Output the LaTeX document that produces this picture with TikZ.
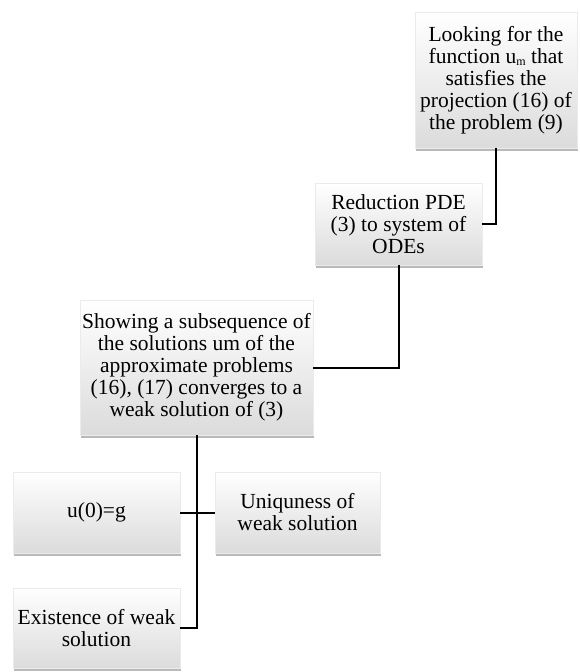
\documentclass[tikz,border=0pt]{standalone}
\usepackage{fontspec}
\setmainfont{Liberation Serif}
\usetikzlibrary{shadows}

\newcommand{\lowsub}[1]{\raisebox{-2.5pt}{\fontsize{12}{12}\selectfont #1}}

\begin{document}
\begin{tikzpicture}[x=1pt,y=-1pt]
      \tikzset{box/.style={rectangle,top color=white,bottom color=black!14,
        draw=black!8,align=center,inner sep=0pt,font=\fontsize{21.5}{22}\selectfont,
        drop shadow={shadow xshift=1pt,shadow yshift=-3pt,opacity=.55}}}
      \tikzset{link/.style={line width=2pt}}
      \useasboundingbox (0,0) rectangle (579,672);
      \node[box,minimum width=162pt,minimum height=136pt] (looking) at (496,80)
        {Looking for the\\function u\lowsub{m} that\\satisfies the\\projection (16) of\\the problem (9)};
      \node[box,minimum width=167pt,minimum height=82pt] (reduction) at (398.5,224)
        {Reduction PDE\\(3) to system of\\ODEs};
      \node[box,minimum width=233pt,minimum height=135pt] (showing) at (196.5,367.5)
        {Showing a subsequence of\\the solutions um of the\\approximate problems\\(16), (17) converges to a\\weak solution of (3)};
      \node[box,minimum width=167pt,minimum height=81pt] (initial) at (96.5,512.5) {u(0)=g};
      \node[box,minimum width=165pt,minimum height=81pt] (uniq) at (297.5,512.5)
        {Uniquness of\\weak solution};
      \node[box,minimum width=167pt,minimum height=80pt] (exist) at (96.5,628)
        {Existence of weak\\solution};
      \draw[link] (looking.south) |- (reduction.east);
      \draw[link] (reduction.south) |- (showing.east);
      \draw[link] (showing.south) |- (exist.east);
      \draw[link] (initial.east) -- (uniq.west);
    \end{tikzpicture}
\end{document}
